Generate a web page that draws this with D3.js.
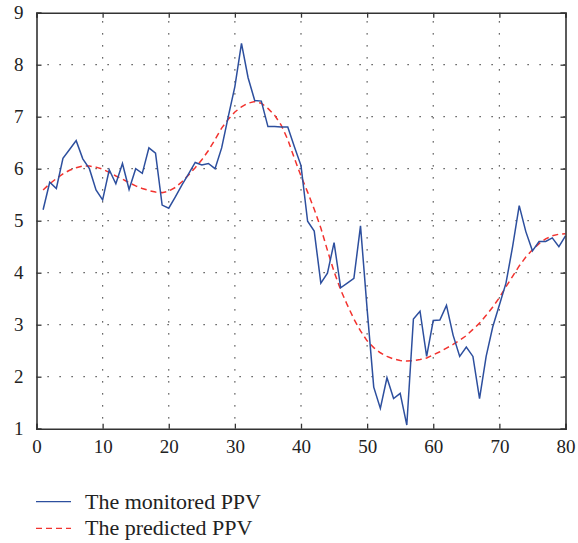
<!DOCTYPE html>
<html>
<head>
<meta charset="utf-8">
<script src="https://cdn.jsdelivr.net/npm/d3@7"></script>
<style>
  html, body { margin: 0; padding: 0; background: #fff; }
  svg { display: block; }
</style>
</head>
<body>
<svg id="chart" width="578" height="543"></svg>
<script>
// ---- data ----
const xTicks = [0, 10, 20, 30, 40, 50, 60, 70, 80];
const yTicks = [1, 2, 3, 4, 5, 6, 7, 8, 9];
const legendLabels = ["The monitored PPV", "The predicted PPV"];

const monitored = [
  5.21, 5.74, 5.62, 6.20, 6.37, 6.54, 6.19, 6.00, 5.59, 5.40,
  5.98, 5.71, 6.10, 5.60, 6.00, 5.91, 6.40, 6.30, 5.30, 5.24,
  5.46, 5.69, 5.90, 6.12, 6.07, 6.10, 6.00, 6.40, 7.00, 7.58,
  8.41, 7.75, 7.31, 7.30, 6.81, 6.81, 6.80, 6.80, 6.42, 6.06,
  4.99, 4.80, 3.80, 3.99, 4.58, 3.71, 3.80, 3.89, 4.90, 3.30,
  1.80, 1.39, 1.98, 1.58, 1.68, 1.07, 3.11, 3.26, 2.39, 3.08,
  3.09, 3.37, 2.80, 2.39, 2.57, 2.39, 1.58, 2.39, 2.96, 3.38,
  3.80, 4.50, 5.29, 4.79, 4.42, 4.60, 4.60, 4.67, 4.50, 4.71
];
const predicted = [
  5.59, 5.71, 5.81, 5.90, 5.97, 6.02, 6.05, 6.05, 6.03, 5.99,
  5.93, 5.86, 5.80, 5.73, 5.67, 5.62, 5.58, 5.55, 5.54, 5.57,
  5.64, 5.75, 5.88, 6.02, 6.17, 6.35, 6.56, 6.78, 6.95, 7.09,
  7.19, 7.26, 7.29, 7.26, 7.16, 7.03, 6.84, 6.56, 6.20, 5.86,
  5.55, 5.22, 4.86, 4.43, 4.02, 3.67, 3.38, 3.11, 2.88, 2.69,
  2.56, 2.46, 2.39, 2.34, 2.31, 2.30, 2.31, 2.33, 2.36, 2.42,
  2.48, 2.55, 2.62, 2.70, 2.79, 2.91, 3.03, 3.18, 3.34, 3.52,
  3.73, 3.93, 4.13, 4.30, 4.44, 4.56, 4.65, 4.71, 4.74, 4.75
];

// ---- layout ----
const L = 36.5, R = 565.5, T = 12.7, B = 428.7;
const svg = d3.select("#chart");
const x = d3.scaleLinear().domain([0, 80]).range([L, R]);
const y = d3.scaleLinear().domain([1, 9]).range([B, T]);
const font = "'Liberation Serif', 'Times New Roman', serif";
const axisColor = "#333";

// grid (dotted)
const grid = svg.append("g");
yTicks.filter(v => v > 1 && v < 9).forEach(v => {
  grid.append("line")
    .attr("x1", L).attr("x2", R).attr("y1", y(v)).attr("y2", y(v))
    .attr("stroke", "#333").attr("stroke-width", 1.2)
    .attr("stroke-dasharray", "1.2,10.8").attr("stroke-dashoffset", -11);
});
xTicks.filter(v => v > 0 && v < 80).forEach(v => {
  grid.append("line")
    .attr("x1", x(v)).attr("x2", x(v)).attr("y1", T).attr("y2", B)
    .attr("stroke", "#333").attr("stroke-width", 1.2)
    .attr("stroke-dasharray", "1.2,10.8").attr("stroke-dashoffset", -8.5);
});

// lines
const idx = d3.range(1, 81);
const lineGen = d3.line().x(d => x(d[0])).y(d => y(d[1]));
svg.append("path")
  .datum(idx.map((t, i) => [t, predicted[i]]))
  .attr("d", lineGen)
  .attr("fill", "none").attr("stroke", "#f2332f").attr("stroke-width", 1.5)
  .attr("stroke-dasharray", "6,4");
svg.append("path")
  .datum(idx.map((t, i) => [t, monitored[i]]))
  .attr("d", lineGen)
  .attr("fill", "none").attr("stroke", "#2d4f9e").attr("stroke-width", 1.5)
  .attr("stroke-linejoin", "miter");

// axes
const tickLen = 5;
const gx = svg.append("g").attr("transform", `translate(0,${B})`)
  .call(d3.axisBottom(x).tickValues(xTicks).tickSize(-tickLen).tickPadding(11));
const gxTop = svg.append("g").attr("transform", `translate(0,${T})`)
  .call(d3.axisTop(x).tickValues(xTicks).tickSize(-tickLen).tickFormat(""));
const gy = svg.append("g").attr("transform", `translate(${L},0)`)
  .call(d3.axisLeft(y).tickValues(yTicks).tickSize(-tickLen).tickPadding(13));
const gyR = svg.append("g").attr("transform", `translate(${R},0)`)
  .call(d3.axisRight(y).tickValues(yTicks).tickSize(-tickLen).tickFormat(""));

[gx, gxTop, gy, gyR].forEach(g => {
  g.selectAll(".domain").attr("stroke", axisColor).attr("stroke-width", 1.6);
  g.selectAll(".tick line").attr("stroke", axisColor).attr("stroke-width", 1.3);
  g.selectAll(".tick text").attr("fill", "#222")
    .style("font-family", font).style("font-size", "19px");
});
gx.selectAll(".tick text").attr("dy", "0.71em");

// legend
const lg = svg.append("g");
const legendStyles = [
  { color: "#2d4f9e", dash: null },
  { color: "#f2332f", dash: "6,4" }
];
legendLabels.forEach((lab, i) => {
  const yy = 501.7 + i * 26.6;
  lg.append("line")
    .attr("x1", 36).attr("x2", 71).attr("y1", yy).attr("y2", yy)
    .attr("stroke", legendStyles[i].color).attr("stroke-width", 1.3)
    .attr("stroke-dasharray", legendStyles[i].dash);
  lg.append("text")
    .attr("x", 85).attr("y", yy).attr("dy", "0.32em")
    .attr("fill", "#222")
    .style("font-family", font).style("font-size", "22px")
    .text(lab);
});
</script>
</body>
</html>
